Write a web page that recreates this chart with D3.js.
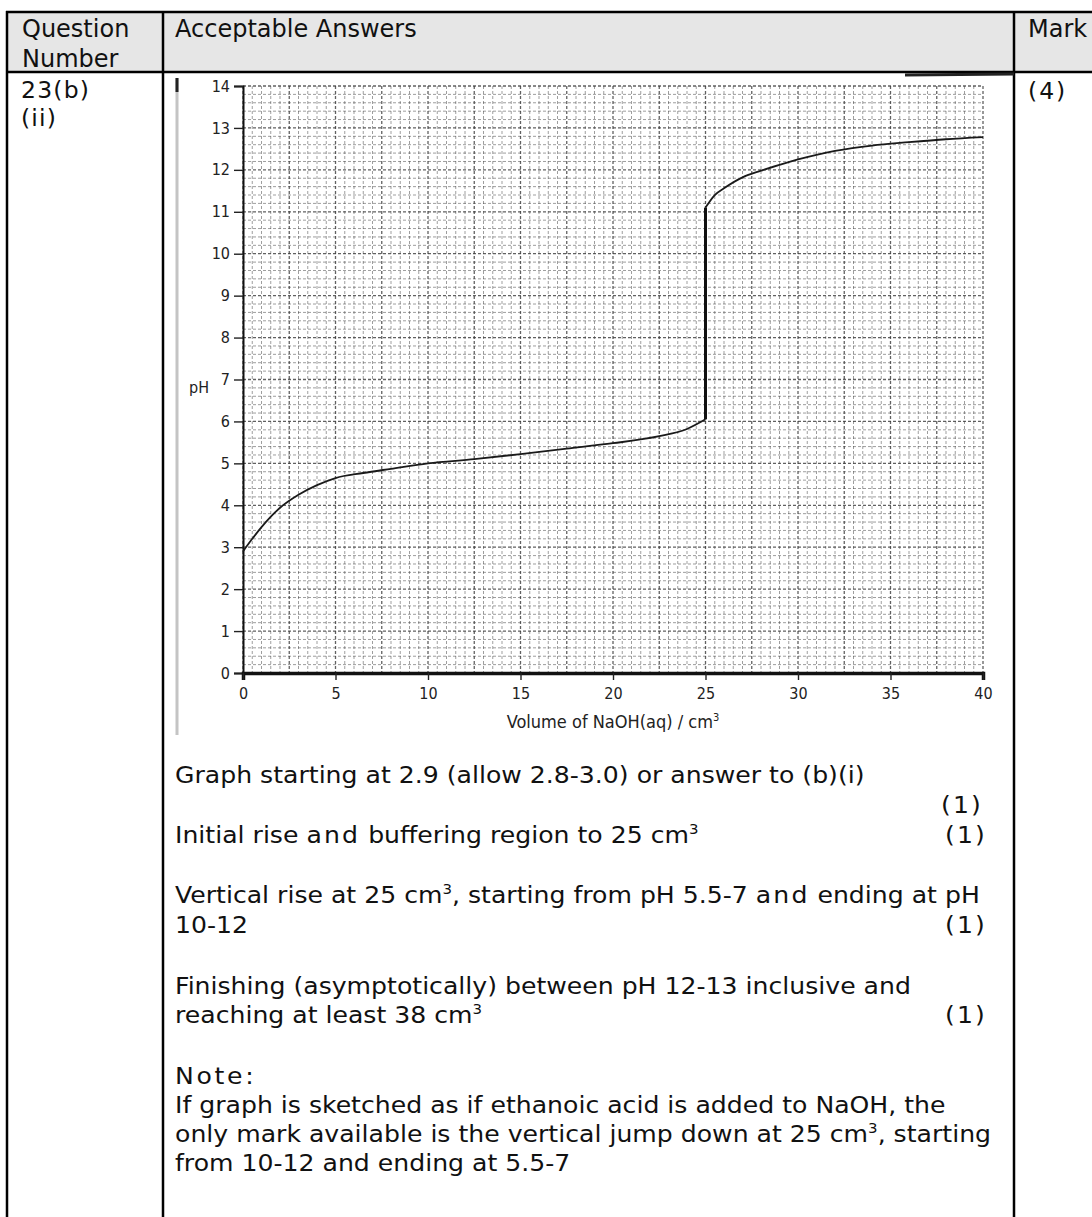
<!DOCTYPE html>
<html>
<head>
<meta charset="utf-8">
<script src="https://cdn.jsdelivr.net/npm/d3@7"></script>
<style>
  html, body { margin: 0; padding: 0; background: #fff; }
  svg { display: block; }
</style>
</head>
<body>
<svg id="sheet" width="1092" height="1217"></svg>
<script>
// titration data: pH against volume of NaOH added
const volBefore = [0, 0.5, 1, 2, 3, 4, 5, 6.5, 8, 10, 12.5, 15, 17.5, 20, 22.5, 24, 25];
const phBefore = [2.9, 3.2, 3.48, 3.94, 4.25, 4.48, 4.65, 4.77, 4.87, 5.0, 5.1, 5.22, 5.35, 5.48, 5.65, 5.82, 6.05];
const volAfter = [25, 25.5, 26, 27, 28, 29, 30, 31, 32, 34, 36, 38, 40];
const phAfter = [11.1, 11.4, 11.56, 11.82, 11.98, 12.12, 12.25, 12.36, 12.45, 12.58, 12.66, 12.73, 12.78];

const xTicks = [0, 5, 10, 15, 20, 25, 30, 35, 40];
const yTicks = [0, 1, 2, 3, 4, 5, 6, 7, 8, 9, 10, 11, 12, 13, 14];

const svg = d3.select('#sheet');
const FONT = "'DejaVu Sans', Verdana, sans-serif";
const AXFONT = "'DejaVu Sans Condensed', 'Liberation Sans Narrow', 'DejaVu Sans', sans-serif";

// ---- table frame
svg.append('rect').attr('x', 7).attr('y', 12).attr('width', 1100).attr('height', 60).attr('fill', '#e6e6e6');
const frame = svg.append('g').attr('stroke', '#000').attr('stroke-width', 2.5);
frame.append('line').attr('x1', 6).attr('x2', 1092).attr('y1', 12).attr('y2', 12);
frame.append('line').attr('x1', 6).attr('x2', 1092).attr('y1', 72).attr('y2', 72);
[7, 163, 1014].forEach(cx => {
  frame.append('line').attr('x1', cx).attr('x2', cx).attr('y1', 11).attr('y2', 1217);
});

function label(x, y, txt, opts = {}) {
  return svg.append('text')
    .attr('x', x).attr('y', y)
    .attr('font-family', FONT)
    .attr('font-size', opts.size || 24)
    .attr('letter-spacing', opts.ls || 0)
    .attr('text-anchor', opts.anchor || 'start')
    .attr('fill', '#111')
    .text(txt);
}

label(22, 37, 'Question');
label(22, 67, 'Number');
label(175, 37, 'Acceptable Answers');
label(1028, 37, 'Mark');
label(21, 98, '23(b)', { size: 23.5, ls: 1.2 });
label(21, 126, '(ii)', { size: 23.5, ls: 1.2 });
label(1028, 99, '(4)', { size: 23.5, ls: 2 });

// ---- scanned figure
const x = d3.scaleLinear().domain([0, 40]).range([243, 983]);
const y = d3.scaleLinear().domain([0, 14]).range([673, 86]);

// scan edges
svg.append('line').attr('x1', 177).attr('x2', 177).attr('y1', 78).attr('y2', 735)
  .attr('stroke', '#c4c4c4').attr('stroke-width', 3);
svg.append('line').attr('x1', 177).attr('x2', 177).attr('y1', 78).attr('y2', 92)
  .attr('stroke', '#222').attr('stroke-width', 3);
svg.append('line').attr('x1', 905).attr('x2', 1014).attr('y1', 75).attr('y2', 74)
  .attr('stroke', '#222').attr('stroke-width', 3);

// graph paper
const grid = svg.append('g');
const minorX = d3.range(0, 40.001, 0.5);
const minorY = d3.range(0, 14.001, 0.2);
const isMajorY = d => Math.abs(d - Math.round(d)) < 1e-6;
grid.selectAll('line.vx').data(minorX).join('line')
  .attr('x1', d => x(d)).attr('x2', d => x(d))
  .attr('y1', y(14)).attr('y2', y(0))
  .attr('stroke', '#3a3a3a')
  .attr('stroke-width', d => (d % 2.5 === 0 ? 1.3 : 0.9))
  .attr('stroke-opacity', d => (d % 2.5 === 0 ? 0.8 : 0.55))
  .attr('stroke-dasharray', '3,2');
grid.selectAll('line.hy').data(minorY).join('line')
  .attr('x1', x(0)).attr('x2', x(40))
  .attr('y1', d => y(d)).attr('y2', d => y(d))
  .attr('stroke', '#3a3a3a')
  .attr('stroke-width', d => (isMajorY(d) ? 1.3 : 0.9))
  .attr('stroke-opacity', d => (isMajorY(d) ? 0.8 : 0.55))
  .attr('stroke-dasharray', '3,2');

// axes
const yAxis = svg.append('g').attr('transform', `translate(${x(0)},0)`)
  .call(d3.axisLeft(y).tickValues(yTicks).tickSize(9).tickPadding(4).tickFormat(d3.format('d')));
const xAxis = svg.append('g').attr('transform', `translate(0,${y(0)})`)
  .call(d3.axisBottom(x).tickValues(xTicks).tickSize(7).tickPadding(8).tickFormat(d3.format('d')));

[yAxis, xAxis].forEach(g => {
  g.selectAll('text').attr('font-family', AXFONT).attr('font-size', 16).attr('fill', '#222');
  g.selectAll('.tick line').attr('stroke', '#222').attr('stroke-width', 1.4);
});
yAxis.select('.domain').attr('stroke', '#111').attr('stroke-width', 2);
xAxis.select('.domain').attr('stroke', '#111').attr('stroke-width', 3.5);

svg.append('text').attr('x', 209).attr('y', 393).attr('text-anchor', 'end')
  .attr('font-family', AXFONT).attr('font-size', 16).attr('fill', '#222').text('pH');

const xTitle = svg.append('text').attr('x', x(20)).attr('y', 728).attr('text-anchor', 'middle')
  .attr('font-family', AXFONT).attr('font-size', 18).attr('fill', '#222');
xTitle.append('tspan').text('Volume of NaOH(aq) / cm');
xTitle.append('tspan').attr('font-size', 11).attr('dy', -7).text('3');

// titration curve
const line = d3.line().x(d => x(d[0])).y(d => y(d[1])).curve(d3.curveMonotoneX);
const before = volBefore.map((v, i) => [v, phBefore[i]]);
const after = volAfter.map((v, i) => [v, phAfter[i]]);
const jump = [before[before.length - 1], after[0]];

svg.append('path').attr('d', line(before)).attr('fill', 'none').attr('stroke', '#1a1a1a').attr('stroke-width', 1.8);
svg.append('path').attr('d', d3.line().x(d => x(d[0])).y(d => y(d[1]))(jump))
  .attr('fill', 'none').attr('stroke', '#111').attr('stroke-width', 3);
svg.append('path').attr('d', line(after)).attr('fill', 'none').attr('stroke', '#1a1a1a').attr('stroke-width', 1.8);

// ---- mark scheme text
const BODY = 23.5, SX = 1.07, TX = 175;
const bodyLines = [
  { y: 783, parts: [{ t: 'Graph starting at 2.9 (allow 2.8-3.0) or answer to (b)(i)' }] },
  { y: 843, parts: [{ t: 'Initial rise ' }, { t: 'and', ls: 2 }, { t: ' buffering region to 25 cm' }, { t: '3', sup: true }] },
  { y: 903, parts: [{ t: 'Vertical rise at 25 cm' }, { t: '3', sup: true }, { t: ', starting from pH 5.5-7 ' }, { t: 'and', ls: 2 }, { t: ' ending at pH' }] },
  { y: 933, parts: [{ t: '10-12' }] },
  { y: 994, parts: [{ t: 'Finishing (asymptotically) between pH 12-13 inclusive and' }] },
  { y: 1023, parts: [{ t: 'reaching at least 38 cm' }, { t: '3', sup: true }] },
  { y: 1084, parts: [{ t: 'Note:', ls: 2.5 }] },
  { y: 1113, parts: [{ t: 'If graph is sketched as if ethanoic acid is added to NaOH, the' }] },
  { y: 1142, parts: [{ t: 'only mark available is the vertical jump down at 25 cm' }, { t: '3', sup: true }, { t: ', starting' }] },
  { y: 1171, parts: [{ t: 'from 10-12 and ending at 5.5-7' }] }
];
const markLines = [
  { y: 813, x: 983 },
  { y: 843, x: 987 },
  { y: 933, x: 987 },
  { y: 1023, x: 987 }
];

bodyLines.forEach(ln => {
  const t = svg.append('text')
    .attr('transform', `translate(${TX},${ln.y}) scale(${SX},1)`)
    .attr('font-family', FONT).attr('font-size', BODY).attr('fill', '#111');
  let raised = false;
  ln.parts.forEach(p => {
    const s = t.append('tspan').text(p.t);
    if (p.ls) s.attr('letter-spacing', p.ls);
    if (p.sup) {
      s.attr('font-size', 14).attr('dy', -9);
      raised = true;
    } else if (raised) {
      s.attr('dy', 9);
      raised = false;
    }
  });
});

markLines.forEach(m => {
  svg.append('text')
    .attr('transform', `translate(${m.x},${m.y}) scale(${SX},1)`)
    .attr('text-anchor', 'end')
    .attr('font-family', FONT).attr('font-size', BODY).attr('letter-spacing', 2).attr('fill', '#111')
    .text('(1)');
});
</script>
</body>
</html>
